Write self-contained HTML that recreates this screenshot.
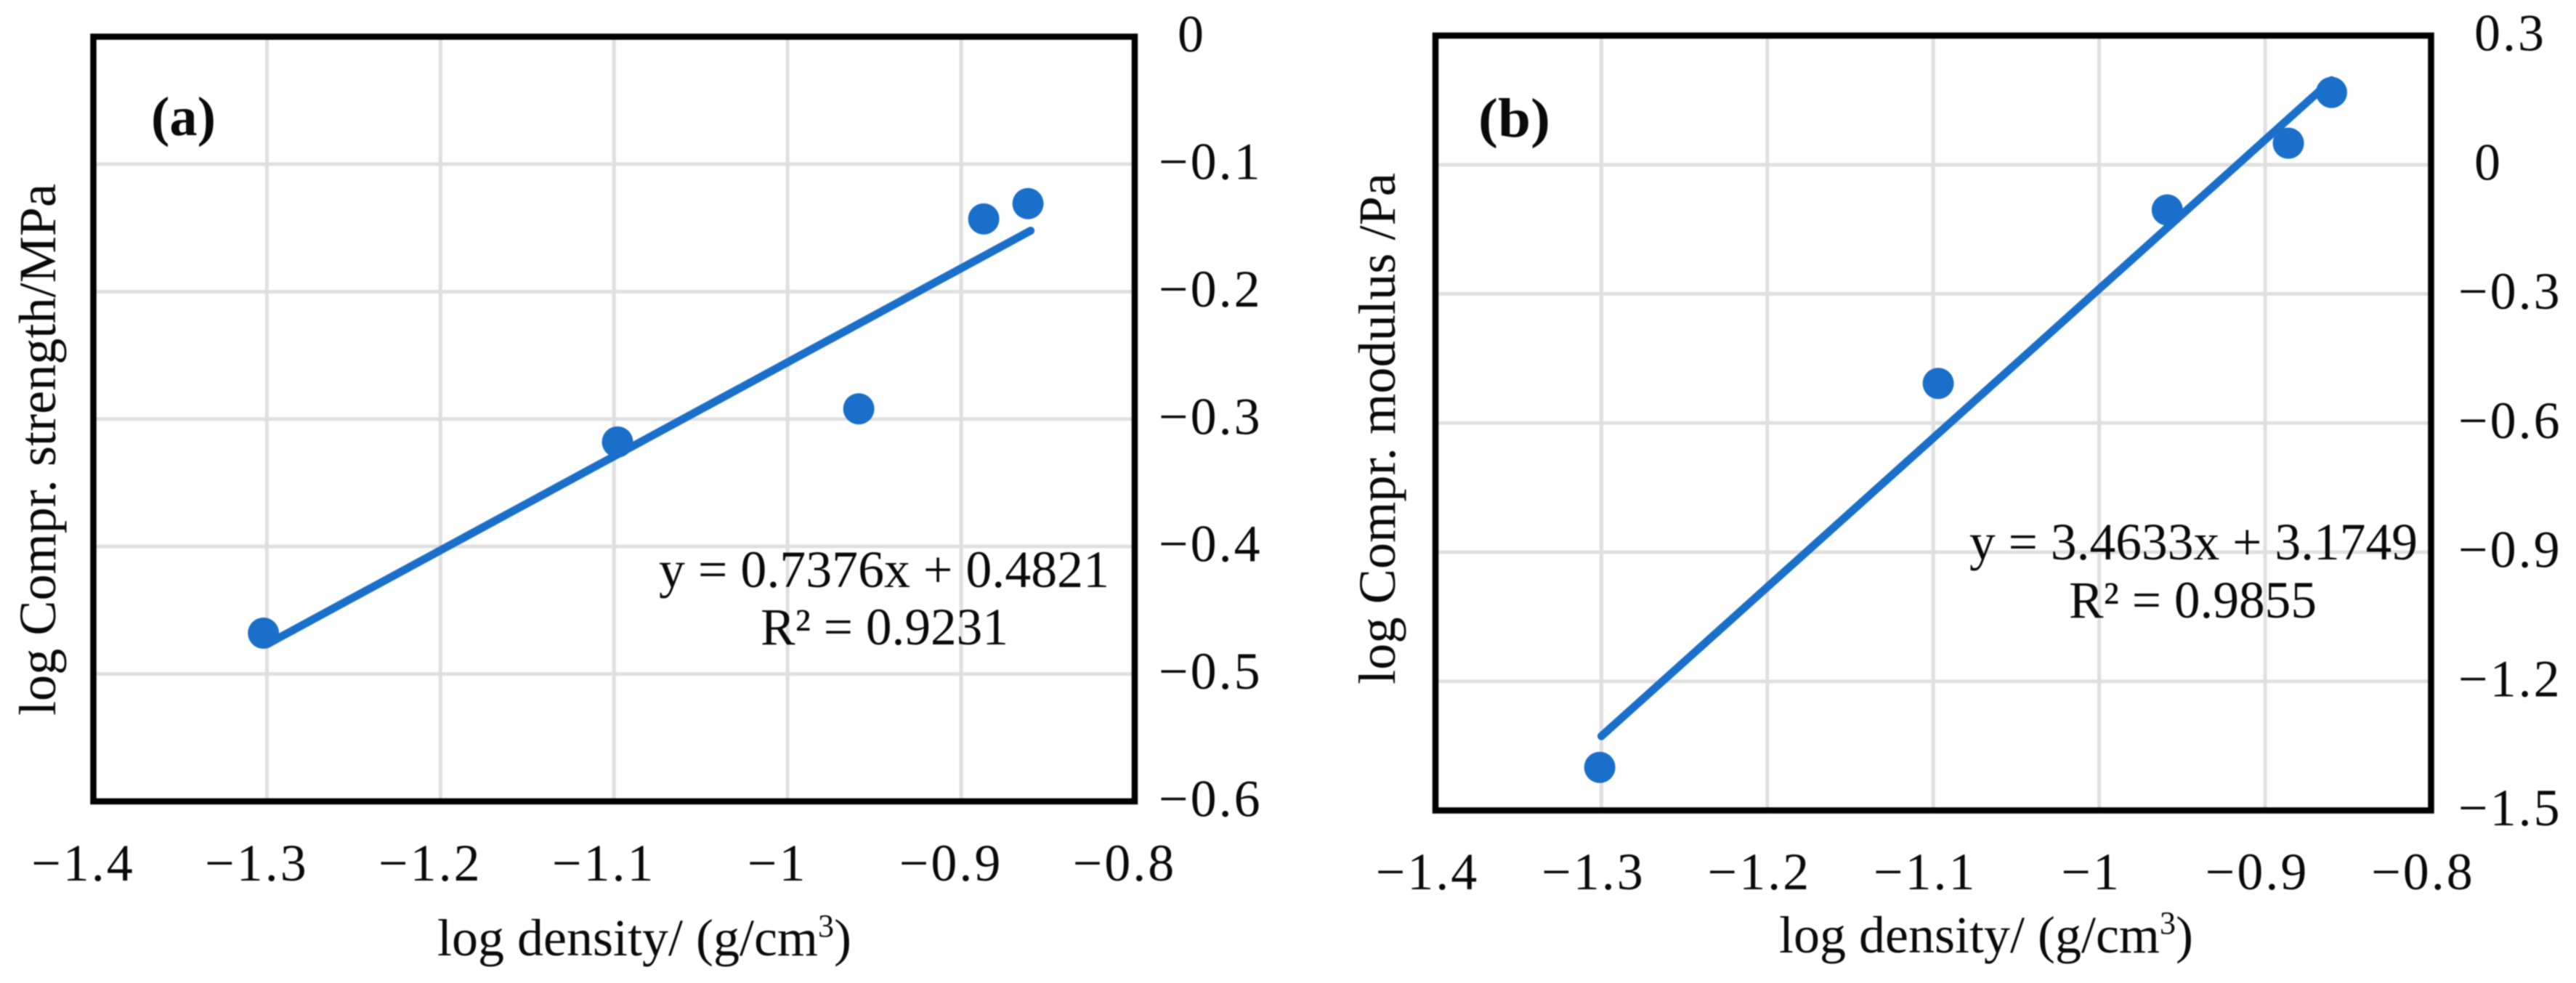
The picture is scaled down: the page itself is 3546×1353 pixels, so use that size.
<!DOCTYPE html>
<html>
<head>
<meta charset="utf-8">
<title>Compression charts</title>
<style>
html,body{margin:0;padding:0;background:#fff;width:3546px;height:1353px;overflow:hidden}
svg{display:block;filter:blur(0.9px)}
text{font-family:"Liberation Serif",serif;fill:#0a0a0a}
</style>
</head>
<body>
<svg id="figure" width="3546" height="1353" viewBox="0 0 3546 1353" xmlns="http://www.w3.org/2000/svg"></svg>
<script>
const xTicks = [-1.4, -1.3, -1.2, -1.1, -1, -0.9, -0.8];
const xTickLabels = ['−1.4', '−1.3', '−1.2', '−1.1', '−1', '−0.9', '−0.8'];

const aDensity = [-1.302, -1.098, -0.959, -0.887, -0.8615];
const aStrength = [-0.468, -0.318, -0.292, -0.143, -0.131];
const aSlope = 0.7376;
const aIntercept = 0.4821;
const aTrendX = [-1.298, -0.86];
const aYTicks = [0, -0.1, -0.2, -0.3, -0.4, -0.5, -0.6];
const aYTickLabels = ['0', '−0.1', '−0.2', '−0.3', '−0.4', '−0.5', '−0.6'];

const bDensity = [-1.301, -1.097, -0.959, -0.886, -0.86];
const bModulus = [-1.40, -0.508, -0.105, 0.05, 0.168];
const bSlope = 3.4633;
const bIntercept = 3.1749;
const bTrendX = [-1.3, -0.86];
const bYTicks = [0.3, 0, -0.3, -0.6, -0.9, -1.2, -1.5];
const bYTickLabels = ['0.3', '0', '−0.3', '−0.6', '−0.9', '−1.2', '−1.5'];

const NS = 'http://www.w3.org/2000/svg';
const svg = document.getElementById('figure');

function make(parent, tag, attrs) {
  const el = document.createElementNS(NS, tag);
  for (const k in attrs) el.setAttribute(k, attrs[k]);
  parent.appendChild(el);
  return el;
}

function label(parent, str, x, y, anchor, name) {
  const t = make(parent, 'text', {
    x: x, y: y, 'font-size': 72, 'text-anchor': anchor, 'letter-spacing': 3
  });
  t.textContent = str;
  
  
  return t;
}

function fitted(parent, str, x, y, size, len, name) {
  const t = make(parent, 'text', {
    x: x, y: y, 'font-size': size,
    textLength: len, lengthAdjust: 'spacingAndGlyphs'
  });
  t.textContent = str;
  
  
  return t;
}

function panel(o) {
  const g = make(svg, 'g', {});
  
  

  const sx = v => o.left + (v - xTicks[0]) / (xTicks[xTicks.length - 1] - xTicks[0]) * (o.right - o.left);
  const sy = v => o.top + (o.yTicks[0] - v) / (o.yTicks[0] - o.yTicks[o.yTicks.length - 1]) * (o.bottom - o.top);

  xTicks.slice(1, -1).forEach(v => {
    const l = make(g, 'line', { x1: sx(v), x2: sx(v), y1: o.top, y2: o.bottom, stroke: '#e0e0e0', 'stroke-width': 5 });
    
    
  });
  o.yTicks.slice(1, -1).forEach(v => {
    const l = make(g, 'line', { x1: o.left, x2: o.right, y1: sy(v), y2: sy(v), stroke: '#e0e0e0', 'stroke-width': 5 });
    
    
  });

  const frame = make(g, 'rect', {
    x: o.left, y: o.top, width: o.right - o.left, height: o.bottom - o.top,
    fill: 'none', stroke: '#000', 'stroke-width': 8.5
  });
  
  

  o.xs.forEach((x, i) => {
    const c = make(g, 'circle', { cx: sx(x), cy: sy(o.ys[i]), r: 21.5, fill: '#1a6fca' });
    
    
  });

  const tr = make(g, 'line', {
    x1: sx(o.trendX[0]), y1: sy(o.slope * o.trendX[0] + o.intercept),
    x2: sx(o.trendX[1]), y2: sy(o.slope * o.trendX[1] + o.intercept),
    stroke: '#1a6fca', 'stroke-width': 11, 'stroke-linecap': 'round'
  });
  
  

  xTicks.forEach((v, i) => {
    label(g, xTickLabels[i], sx(v) + o.xLabelOffset, o.xLabelY, 'middle', 'x-tick-label');
  });
  o.yTicks.forEach((v, i) => {
    label(g, o.yLabels[i], v < 0 ? o.yNegStart : o.yPosStart, sy(v) + 20.5, 'start', 'y-tick-label');
  });

  const xt = make(g, 'text', { x: o.xt[0], y: o.xt[1], 'font-size': 72 });
  
  
  xt.innerHTML = 'log density/ (g/cm<tspan dy="-26" font-size="44">3</tspan><tspan dy="26">)</tspan>';

  const yt = make(g, 'text', {
    transform: 'translate(' + o.yt[0] + ',' + o.yt[1] + ') rotate(-90)',
    'font-size': 72, textLength: o.yt[2], lengthAdjust: 'spacingAndGlyphs'
  });
  yt.textContent = o.yTitle;
  
  

  fitted(g, o.eq, o.eqp[0], o.eqp[1], 72, o.eqp[2], 'trend-equation');
  fitted(g, o.r2, o.r2p[0], o.r2p[1], 72, o.r2p[2], 'r-squared');
  const pl = fitted(g, o.tag, o.tagp[0], o.tagp[1], 76, o.tagp[2], 'panel-label');
  pl.setAttribute('font-weight', 'bold');
}

panel({
  id: 'panel-a', left: 128.5, right: 1562, top: 50.5, bottom: 1103,
  yTicks: aYTicks, yLabels: aYTickLabels, xs: aDensity, ys: aStrength,
  slope: aSlope, intercept: aIntercept, trendX: aTrendX,
  xLabelY: 1212, xLabelOffset: -14, yNegStart: 1595, yPosStart: 1621,
  xt: [602, 1315], yt: [76, 985, 732],
  yTitle: 'log Compr. strength/MPa',
  eq: 'y = 0.7376x + 0.4821', eqp: [907, 808, 620],
  r2: 'R² = 0.9231', r2p: [1047, 887, 341],
  tag: '(a)', tagp: [208, 186, 89]
});

panel({
  id: 'panel-b', left: 1976, right: 3346.5, top: 49, bottom: 1115.5,
  yTicks: bYTicks, yLabels: bYTickLabels, xs: bDensity, ys: bModulus,
  slope: bSlope, intercept: bIntercept, trendX: bTrendX,
  xLabelY: 1224, xLabelOffset: -11, yNegStart: 3384, yPosStart: 3406,
  xt: [2449, 1311], yt: [1920, 942, 704],
  yTitle: 'log Compr. modulus /Pa',
  eq: 'y = 3.4633x + 3.1749', eqp: [2711, 770, 617],
  r2: 'R² = 0.9855', r2p: [2848, 850, 341],
  tag: '(b)', tagp: [2035, 188, 99]
});
</script>
</body>
</html>
